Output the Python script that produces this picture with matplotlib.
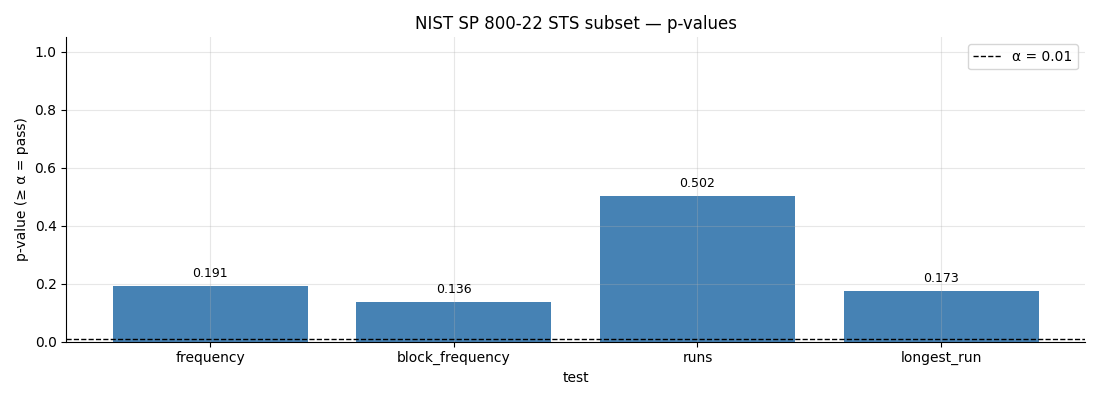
import matplotlib
matplotlib.use("Agg")
import matplotlib.pyplot as plt

tests = ["frequency", "block_frequency", "runs", "longest_run"]
pvalues = [0.191, 0.136, 0.502, 0.173]
alpha = 0.01

fig, ax = plt.subplots(figsize=(11, 4), dpi=100)
bars = ax.bar(tests, pvalues, color="steelblue")
ax.bar_label(bars, labels=[f"{p:.3f}" for p in pvalues], padding=4.5, fontsize=9)
ax.axhline(alpha, color="black", linestyle="--", linewidth=1, label=f"α = {alpha}")
ax.set_ylim(0, 1.05)
ax.set_xlabel("test")
ax.set_ylabel("p-value (≥ α = pass)")
ax.set_title("NIST SP 800-22 STS subset — p-values")
ax.grid(alpha=0.3)
ax.legend(loc="upper right")
ax.spines["top"].set_visible(False)
ax.spines["right"].set_visible(False)
fig.tight_layout()
fig.savefig("out.png")
